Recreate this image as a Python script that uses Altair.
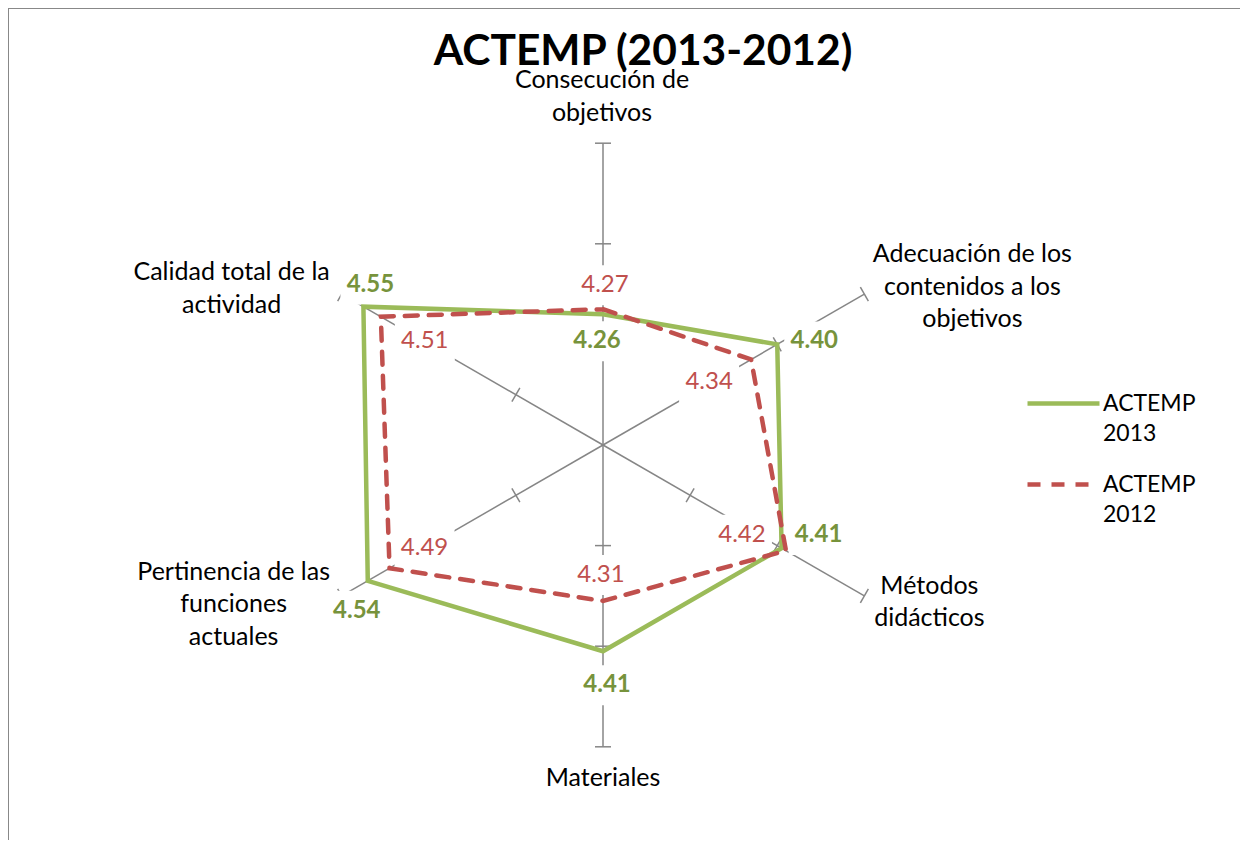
import altair as alt
import pandas as pd

# ---------------- data ----------------
categories = [
    "Consecución de objetivos",
    "Adecuación de los contenidos a los objetivos",
    "Métodos didácticos",
    "Materiales",
    "Pertinencia de las funciones actuales",
    "Calidad total de la actividad",
]
category_text = [
    "Consecución de\nobjetivos",
    "Adecuación de los\ncontenidos a los\nobjetivos",
    "Métodos\ndidácticos",
    "Materiales",
    "Pertinencia de las\nfunciones\nactuales",
    "Calidad total de la\nactividad",
]
series_names = ["ACTEMP 2013", "ACTEMP 2012"]
values_2013 = [4.26, 4.40, 4.41, 4.41, 4.54, 4.55]
values_2012 = [4.27, 4.34, 4.42, 4.31, 4.49, 4.51]
radial_ticks = [4.2, 4.4, 4.6]
r_min = 4.0
r_max = 4.6

# ---------------- layout (pixels) ----------------
W, H = 1232, 832          # plot area
CX, CY = 595, 437         # centre of the radar in plot pixels
PX = 503                  # pixels per value unit
TICK_HALF = 8             # half length of radial tick marks (px)
BOX_W, BOX_H = 30, 20     # half sizes of the white label boxes (px)
label_offsets_2013 = [(-6, 27), (37, -3), (37, -13), (4, 34), (-11, 30), (7, -22)]
label_offsets_2012 = [(2, -24), (-42, 23), (-44, -16), (-2, -26), (35, -20), (44, 24)]
category_offsets = [(-1, -63), (108, -40), (65, -10), (0, 31), (-108, -24), (-110, -22)]

GREEN = "#9BBB59"
RED = "#C0504D"
GREEN_TXT = "#77933C"
AXIS_GREY = "#868686"
FONT = "Lato"

xs = alt.Scale(domain=[-CX / PX, (W - CX) / PX], nice=False, zero=False)
ys = alt.Scale(domain=[-(H - CY) / PX, CY / PX], nice=False, zero=False)


def X(f):
    return alt.X(f, type="quantitative", scale=xs, axis=None)


def Y(f):
    return alt.Y(f, type="quantitative", scale=ys, axis=None)


ANG = "PI/2 - datum.idx*PI/3"

# ---------------- tables ----------------
spokes_df = pd.DataFrame({"idx": list(range(len(categories))), "cat": categories})

ticks_df = pd.DataFrame(
    [{"idx": i, "t": t} for i in range(len(categories)) for t in radial_ticks]
)

rows = []
for name, vals in zip(series_names, [values_2013, values_2012]):
    for i, v in enumerate(vals + vals[:1]):
        rows.append({"series": name, "idx": i % len(vals), "ord": i, "value": v})
series_df = pd.DataFrame(rows)

lab_rows = []
for name, vals, offs in zip(series_names, [values_2013, values_2012],
                            [label_offsets_2013, label_offsets_2012]):
    for i, (v, (dx, dy)) in enumerate(zip(vals, offs)):
        lab_rows.append({"series": name, "idx": i, "value": v, "dx": dx, "dy": dy})
labels_df = pd.DataFrame(lab_rows)

cat_df = pd.DataFrame({
    "idx": list(range(len(categories))),
    "text": category_text,
    "dx": [o[0] for o in category_offsets],
    "dy": [o[1] for o in category_offsets],
})

one = pd.DataFrame({"k": [0]})

# ---------------- layers ----------------
frame_top = alt.Chart(one).mark_rule(color="#888888", strokeWidth=2).encode(
    x=alt.value(0), x2=alt.value(W + 20), y=alt.value(0))
frame_left = alt.Chart(one).mark_rule(color="#888888", strokeWidth=2).encode(
    x=alt.value(0), y=alt.value(0), y2=alt.value(H + 20))

spokes = alt.Chart(spokes_df).transform_calculate(
    a=ANG,
    x0="0", y0="0",
    x1=f"({r_max}-{r_min})*cos(datum.a)",
    y1=f"({r_max}-{r_min})*sin(datum.a)",
).mark_rule(color=AXIS_GREY, strokeWidth=1.5).encode(
    x=X("x0"), y=Y("y0"), x2="x1:Q", y2="y1:Q")

ticks = alt.Chart(ticks_df).transform_calculate(
    a=ANG,
    cx=f"(datum.t-{r_min})*cos(datum.a)",
    cy=f"(datum.t-{r_min})*sin(datum.a)",
    h=f"{TICK_HALF}/{PX}",
).transform_calculate(
    xa="datum.cx - datum.h*sin(datum.a)",
    ya="datum.cy + datum.h*cos(datum.a)",
    xb="datum.cx + datum.h*sin(datum.a)",
    yb="datum.cy - datum.h*cos(datum.a)",
).mark_rule(color=AXIS_GREY, strokeWidth=1.5).encode(
    x=X("xa"), y=Y("ya"), x2="xb:Q", y2="yb:Q")

label_pos = dict(
    a=ANG,
    px=f"(datum.value-{r_min})*cos(datum.a)",
    py=f"(datum.value-{r_min})*sin(datum.a)",
)
label_pos2 = dict(
    lx=f"datum.px + datum.dx/{PX}",
    ly=f"datum.py - datum.dy/{PX}",
)

boxes = alt.Chart(labels_df).transform_calculate(**label_pos).transform_calculate(
    **label_pos2).transform_calculate(
    bx1=f"datum.lx - {BOX_W}/{PX}", bx2=f"datum.lx + {BOX_W}/{PX}",
    by1=f"datum.ly - {BOX_H}/{PX}", by2=f"datum.ly + {BOX_H}/{PX}",
).mark_rect(color="white").encode(
    x=X("bx1"), x2="bx2:Q", y=Y("by1"), y2="by2:Q")

legend = alt.Legend(
    orient="none", legendX=1017, legendY=357, title=None,
    symbolType="stroke", symbolSize=5184, symbolStrokeWidth=4.5,
    labelFont=FONT, labelFontSize=23, labelColor="black",
    labelExpr="split(datum.label, ' ')", labelLimit=0, labelOffset=1,
    labelBaseline="middle", rowPadding=0, padding=0,
)

lines = alt.Chart(series_df).transform_calculate(
    a=ANG,
    px=f"(datum.value-{r_min})*cos(datum.a)",
    py=f"(datum.value-{r_min})*sin(datum.a)",
).mark_line(strokeWidth=4.5, strokeCap="round", strokeJoin="miter").encode(
    x=X("px"), y=Y("py"), order="ord:Q",
    color=alt.Color("series:N", scale=alt.Scale(domain=series_names, range=[GREEN, RED]),
                    legend=legend),
    strokeDash=alt.StrokeDash("series:N",
                              scale=alt.Scale(domain=series_names, range=[[1000, 0], [13, 11]]),
                              legend=legend),
)


def value_labels(name, color, weight):
    return alt.Chart(labels_df).transform_filter(
        f"datum.series == '{name}'"
    ).transform_calculate(**label_pos).transform_calculate(
        **label_pos2).transform_calculate(
        txt="format(datum.value, '.2f')"
    ).mark_text(font=FONT, fontSize=24, fontWeight=weight, color=color,
                align="center", baseline="middle").encode(
        x=X("lx"), y=Y("ly"), text="txt:N")


green_labels = value_labels(series_names[0], GREEN_TXT, "bold")
red_labels = value_labels(series_names[1], RED, "normal")

cat_labels = alt.Chart(cat_df).transform_calculate(
    a=ANG,
    lx=f"({r_max}-{r_min})*cos(datum.a) + datum.dx/{PX}",
    ly=f"({r_max}-{r_min})*sin(datum.a) - datum.dy/{PX}",
).mark_text(font=FONT, fontSize=25, color="black", align="center", baseline="middle",
            lineBreak="\n", lineHeight=32.5).encode(
    x=X("lx"), y=Y("ly"), text="text:N")

title = alt.Chart(one).mark_text(
    text="ACTEMP (2013-2012)", font=FONT, fontSize=42.5, fontWeight="bold",
    color="black", align="center", baseline="middle",
).encode(x=alt.value(635), y=alt.value(44))

chart = alt.layer(
    frame_top, frame_left, spokes, ticks, boxes, lines,
    green_labels, red_labels, cat_labels, title,
).properties(
    width=W, height=H, padding=0, autosize="none", background="white",
).configure(
    style={"guide-label": {"lineHeight": 30}}
).configure_view(stroke=None)

chart.save("out.html", embed_options={"renderer": "svg", "actions": False})
